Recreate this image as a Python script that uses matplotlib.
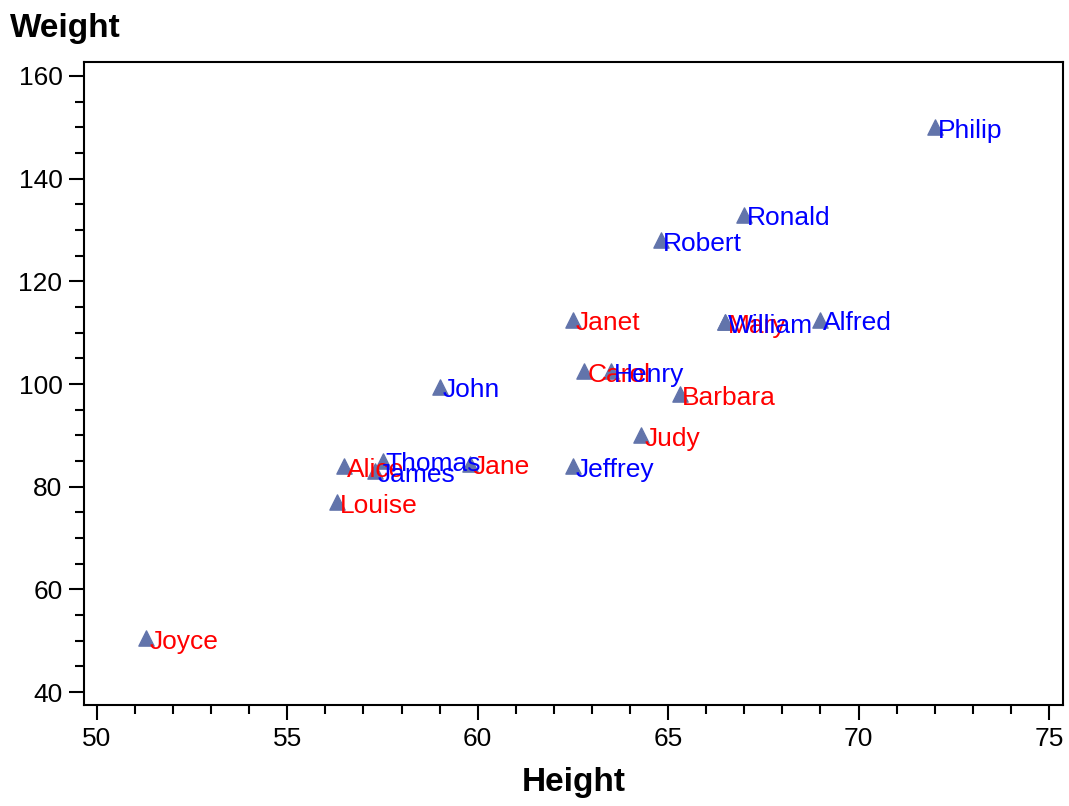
import matplotlib.pyplot as plt
from matplotlib.ticker import MultipleLocator

plt.rcParams['font.family'] = ['Liberation Sans', 'DejaVu Sans']

names = ["Alfred", "Alice", "Barbara", "Carol", "Henry", "James", "Jane", "Janet",
         "Jeffrey", "John", "Joyce", "Judy", "Louise", "Mary", "Philip", "Robert",
         "Ronald", "Thomas", "William"]
sex = ["M", "F", "F", "F", "M", "M", "F", "F", "M", "M", "F", "F", "F", "F",
       "M", "M", "M", "M", "M"]
height = [69.0, 56.5, 65.3, 62.8, 63.5, 57.3, 59.8, 62.5, 62.5, 59.0, 51.3, 64.3,
          56.3, 66.5, 72.0, 64.8, 67.0, 57.5, 66.5]
weight = [112.5, 84.0, 98.0, 102.5, 102.5, 83.0, 84.5, 112.5, 84.0, 99.5, 50.5, 90.0,
          77.0, 112.0, 150.0, 128.0, 133.0, 85.0, 112.0]

label_colors = {"M": "#0000ff", "F": "#ff0000"}

fig = plt.figure(figsize=(10.69, 8.06), dpi=100)
ax = fig.add_axes([84 / 1069, 1 - 705 / 806, (1063 - 84) / 1069, (705 - 62) / 806])

ax.scatter(height, weight, marker="^", s=120, color="#6274ab", zorder=2)
for n, s, h, w in zip(names, sex, height, weight):
    ax.annotate(n, (h, w), xytext=(2, -7.5), textcoords="offset points",
                ha="left", va="baseline", color=label_colors[s], fontsize=19, zorder=3)

ax.set_xlim(49.66, 75.37)
ax.set_ylim(37.5, 162.7)
ax.xaxis.set_major_locator(MultipleLocator(5))
ax.xaxis.set_minor_locator(MultipleLocator(1))
ax.yaxis.set_major_locator(MultipleLocator(20))
ax.yaxis.set_minor_locator(MultipleLocator(5))
ax.tick_params(which="major", direction="out", length=10.5, width=1.5, labelsize=19, pad=5)
ax.tick_params(which="minor", direction="out", length=6.5, width=1.5)
for sp in ax.spines.values():
    sp.set_linewidth(1.5)

ax.set_xlabel("Height", fontsize=24, fontweight="bold", labelpad=12)
fig.text(10 / 1069, 1 - 28 / 806, "Weight", fontsize=24, fontweight="bold",
         ha="left", va="center")

fig.savefig("out.png", dpi=100)
